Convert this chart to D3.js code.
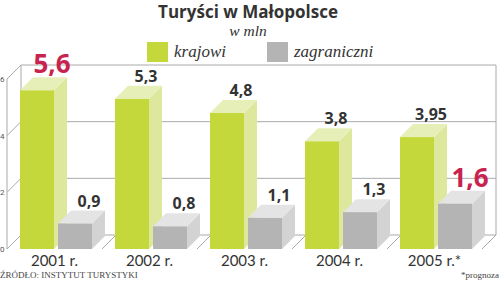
<!DOCTYPE html>
<html>
<head>
<meta charset="utf-8">
<script src="https://d3js.org/d3.v7.min.js"></script>
<style>
  body { margin: 0; background: #fff; }
  svg { display: block; }
  .grid { stroke: #aaa; stroke-width: 1; fill: none; }
</style>
</head>
<body>
<svg width="500" height="281"></svg>
<script>
const years = ["2001 r.", "2002 r.", "2003 r.", "2004 r.", "2005 r.*"];
const domestic = [5.6, 5.3, 4.8, 3.8, 3.95];
const foreign = [0.9, 0.8, 1.1, 1.3, 1.6];
const domesticLabels = ["5,6", "5,3", "4,8", "3,8", "3,95"];
const foreignLabels = ["0,9", "0,8", "1,1", "1,3", "1,6"];
const highlight = [[true, false, false, false, false], [false, false, false, false, true]];
const yTicks = [0, 2, 4, 6];

const svg = d3.select("svg");
const depth = 14, barDepth = 13;

const x = d3.scaleBand().domain(years).range([7, 482]);
const y = d3.scaleLinear().domain([0, 6]).range([249, 79]);
const barW = 34;

const series = [
  { vals: domestic, labels: domesticLabels, off: 13, front: "#c4d83b", side: "#dde89d", top: "#e7efb8", hl: highlight[0] },
  { vals: foreign, labels: foreignLabels, off: 51, front: "#b4b4b5", side: "#d3d3d3", top: "#e4e4e4", hl: highlight[1] }
];

const serif = "'Liberation Serif', 'DejaVu Serif', serif";

// title
svg.append("text").attr("x", 248).attr("y", 18).attr("text-anchor", "middle")
  .attr("font-family", "'Open Sans', Roboto, sans-serif").attr("font-weight", "bold")
  .attr("font-size", 17).attr("fill", "#333").text("Turyści w Małopolsce");
svg.append("text").attr("x", 248).attr("y", 36).attr("text-anchor", "middle")
  .attr("font-family", serif).attr("font-style", "italic")
  .attr("font-size", 15.5).attr("fill", "#333").text("w mln");

// legend
const legend = [["krajowi", "#c4d83b", 147], ["zagraniczni", "#b4b4b5", 267]];
legend.forEach(([t, c, lx]) => {
  svg.append("rect").attr("x", lx).attr("y", 42).attr("width", 21).attr("height", 20).attr("fill", c);
  svg.append("text").attr("x", lx + 27).attr("y", 57)
    .attr("font-family", serif).attr("font-style", "italic")
    .attr("font-size", 17).attr("fill", "#333").text(t);
});

// walls
const x0 = x.range()[0], x1 = x.range()[1];
const g = svg.append("g");
yTicks.forEach(v => {
  g.append("line").attr("class", "grid")
    .attr("x1", x0 + depth).attr("x2", x1 + depth).attr("y1", y(v) - depth).attr("y2", y(v) - depth);
  g.append("line").attr("class", "grid")
    .attr("x1", x0).attr("x2", x0 + depth).attr("y1", y(v)).attr("y2", y(v) - depth);
});
g.append("line").attr("class", "grid").attr("x1", x0).attr("x2", x0).attr("y1", y(0)).attr("y2", y(6));
g.append("line").attr("class", "grid").attr("x1", x0 + depth).attr("x2", x0 + depth).attr("y1", y(0) - depth).attr("y2", y(6) - depth);
g.append("line").attr("class", "grid").attr("x1", x1 + depth).attr("x2", x1 + depth).attr("y1", y(0) - depth).attr("y2", y(6) - depth);
years.concat(["end"]).forEach((c, i) => {
  const bx = i < years.length ? x(c) : x1;
  if (i === 0) return;
  g.append("line").attr("class", "grid")
    .attr("x1", bx).attr("x2", bx + depth).attr("y1", y(0)).attr("y2", y(0) - depth);
});

// y tick labels
svg.selectAll(".ytick").data(yTicks).join("text").attr("class", "ytick")
  .attr("x", 0).attr("y", d => y(d) + 3)
  .attr("font-family", "Roboto, sans-serif").attr("font-size", 8).attr("fill", "#555")
  .text(d => d);

// bars
series.forEach(s => {
  const bars = svg.append("g").selectAll("g").data(years).join("g");
  bars.each(function(c, i) {
    const b = d3.select(this);
    const bx = x(c) + s.off, top = y(s.vals[i]), bot = y(0);
    b.append("path").attr("fill", s.side)
      .attr("d", `M${bx + barW},${top}L${bx + barW + barDepth},${top - barDepth}L${bx + barW + barDepth},${bot - barDepth}L${bx + barW},${bot}Z`);
    b.append("path").attr("fill", s.top)
      .attr("d", `M${bx},${top}L${bx + barDepth},${top - barDepth}L${bx + barW + barDepth},${top - barDepth}L${bx + barW},${top}Z`);
    b.append("rect").attr("fill", s.front).attr("x", bx).attr("y", top).attr("width", barW).attr("height", bot - top);
    const big = s.hl[i];
    b.append("text").attr("x", bx + barW / 2 + (big ? 15 : 14)).attr("y", top - barDepth - 4)
      .attr("text-anchor", "middle")
      .attr("font-family", "'Open Sans', Roboto, sans-serif").attr("font-weight", "bold")
      .attr("font-size", big ? 26 : 16).attr("fill", big ? "#c8234f" : "#333")
      .text(s.labels[i]);
  });
});

// category labels
svg.selectAll(".cat").data(years).join("text").attr("class", "cat")
  .attr("x", d => x(d) + x.bandwidth() / 2).attr("y", 266).attr("text-anchor", "middle")
  .attr("font-family", "Lato, Roboto, sans-serif").attr("font-size", 15).attr("fill", "#333")
  .text(d => d);

// footer
svg.append("text").attr("x", 0).attr("y", 278)
  .attr("font-family", serif).attr("font-size", 9).attr("fill", "#444")
  .text("ŹRÓDŁO: INSTYTUT TURYSTYKI");
svg.append("text").attr("x", 499).attr("y", 278).attr("text-anchor", "end")
  .attr("font-family", serif).attr("font-size", 9).attr("fill", "#444")
  .text("*prognoza");
</script>
</body>
</html>
